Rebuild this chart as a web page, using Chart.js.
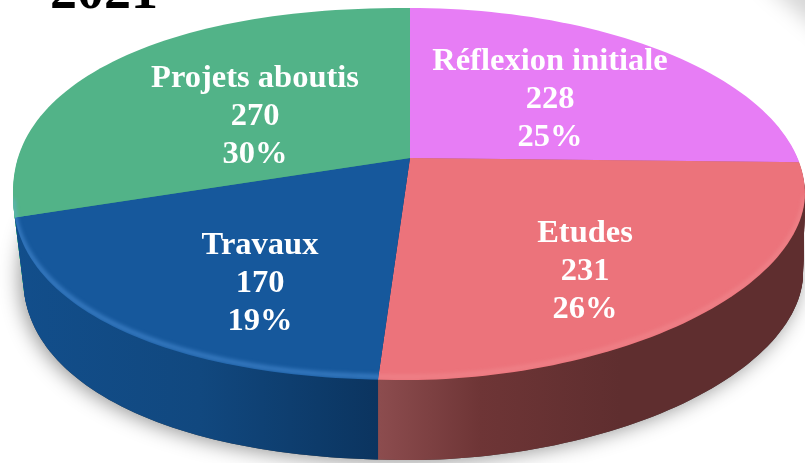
<!DOCTYPE html>
<html>
<head>
<meta charset="utf-8">
<script src="https://cdn.jsdelivr.net/npm/chart.js@4"></script>
<style>
  html, body { margin: 0; padding: 0; background: #fff; overflow: hidden; }
  canvas { display: block; }
</style>
</head>
<body>
<canvas id="pie" width="805" height="463"></canvas>
<script>
// data, clockwise from 12 o'clock
const categories = ['Réflexion initiale', 'Etudes', 'Travaux', 'Projets aboutis'];
const values = [228, 231, 170, 270];
const percents = ['25%', '26%', '19%', '30%'];
const titleText = '2021';

const faceColors = ['#E77DF5', '#EC737B', '#16589C', '#52B388'];
const sideColors = [
    ['#A85BB3', '#A85BB3'],
    ['#8C4C4E', '#6E3536', '#5F2E2F', '#5F2E2F'],
    ['#124E8B', '#11487F', '#0B345F'],
    ['#5CC497', '#3E9A70']
];
const sideStops = [[390, 800], [380, 480, 620, 800], [15, 200, 380], [10, 60]];

// label centres in page pixels (first line)
const labelPos = [[550, 62], [585, 234], [260, 246], [255, 79]];
const lineGap = 38;

// flattened disc: the apex sits above the rim's centre, as in a perspective view
const apex = { x: 410, y: 158, rx: 500, ry: 230 };
const rim = { x: 409, y: 194, rx: 396, ry: 186 };
const depth = 80;

function placeDisc(ctx, arc, dy) {
    const sx = apex.rx / arc.outerRadius;
    const sy = apex.ry / arc.outerRadius;
    ctx.translate(apex.x, apex.y + dy);
    ctx.scale(sx, sy);
    ctx.translate(-arc.x, -arc.y);
}

// rim outline, a bit fuller on the left and tighter at the front right
function rimPoints(dy, from, to) {
    const pts = [];
    const cx = rim.x + dy * 0.05;
    const rx = rim.rx - dy * 0.075;
    for (let k = 0; k <= 240; k++) {
        const t = from + (to - from) * k / 240;
        const c = Math.cos(t), s = Math.sin(t);
        const n = c < 0 ? 2.2 : (s > 0 ? 1.9 : 2);
        const px = Math.sign(c) * Math.pow(Math.abs(c), 2 / n);
        const py = Math.sign(s) * Math.pow(Math.abs(s), 2 / n);
        pts.push([cx + rx * px, rim.y + dy + rim.ry * py]);
    }
    return pts;
}

function rimPath(ctx, dy) {
    ctx.beginPath();
    rimPoints(dy, 0, Math.PI * 2).forEach((p, k) => k ? ctx.lineTo(p[0], p[1]) : ctx.moveTo(p[0], p[1]));
    ctx.closePath();
}

function bevel(ctx, color, left, right) {
    ctx.save();
    rimPath(ctx, 0);
    ctx.clip();
    ctx.beginPath();
    ctx.rect(left, 0, right - left, 463);
    ctx.clip();
    ctx.filter = 'blur(2px)';
    ctx.strokeStyle = color;
    ctx.lineWidth = 4;
    ctx.beginPath();
    rimPoints(-3, 0.01 * Math.PI, 0.99 * Math.PI).forEach((p, k) => k ? ctx.lineTo(p[0], p[1]) : ctx.moveTo(p[0], p[1]));
    ctx.stroke();
    ctx.restore();
}

const disc3d = {
    id: 'disc3d',
    beforeDatasetsDraw(chart) {
        const ctx = chart.ctx;
        const arcs = chart.getDatasetMeta(0).data;
        const first = arcs[0];
        const toLocal = X => first.x + (X - apex.x) * first.outerRadius / apex.rx;

        // smudge in the top right corner
        ctx.save();
        ctx.filter = 'blur(10px)';
        ctx.fillStyle = 'rgba(0,0,0,0.16)';
        ctx.beginPath();
        ctx.moveTo(760, -20);
        ctx.lineTo(830, -20);
        ctx.lineTo(830, 40);
        ctx.closePath();
        ctx.fill();
        ctx.restore();

        // ground shadow
        ctx.save();
        ctx.shadowColor = 'rgba(0,0,0,0.42)';
        ctx.shadowBlur = 20;
        ctx.shadowOffsetX = -3;
        ctx.shadowOffsetY = 2;
        ctx.fillStyle = '#444';
        rimPath(ctx, depth);
        ctx.fill();
        ctx.restore();

        // wall: the same arcs pushed down step by step
        const fills = arcs.map((arc, i) => {
            const a = sideStops[i][0], b = sideStops[i][sideStops[i].length - 1];
            const g = ctx.createLinearGradient(toLocal(a), 0, toLocal(b), 0);
            sideStops[i].forEach((s, k) => g.addColorStop((s - a) / (b - a), sideColors[i][k]));
            return g;
        });
        for (let d = depth; d > 0; d--) {
            ctx.save();
            rimPath(ctx, d);
            ctx.clip();
            placeDisc(ctx, first, d);
            arcs.forEach((arc, i) => {
                const keep = arc.options;
                arc.options = Object.assign({}, keep, { backgroundColor: fills[i], borderWidth: 0 });
                arc.draw(ctx);
                arc.options = keep;
            });
            ctx.restore();
        }

        // top face is drawn by the library inside this transform
        ctx.save();
        rimPath(ctx, 0);
        ctx.clip();
        placeDisc(ctx, first, 0);
    },
    afterDatasetsDraw(chart) {
        const ctx = chart.ctx;
        ctx.restore();

        // soft bevel along the front rim
        bevel(ctx, 'rgba(110,180,255,0.45)', 0, 379);
        bevel(ctx, 'rgba(255,190,190,0.22)', 379, 805);

        // clipped title at the top edge
        ctx.save();
        ctx.fillStyle = '#000';
        ctx.font = 'bold 54px "Liberation Serif"';
        ctx.textBaseline = 'alphabetic';
        ctx.textAlign = 'left';
        ctx.fillText(titleText, 50, 8);

        // labels
        ctx.fillStyle = '#fff';
        ctx.font = 'bold 32.5px "Liberation Serif"';
        ctx.textAlign = 'center';
        ctx.textBaseline = 'middle';
        categories.forEach((name, i) => {
            const [x, y] = labelPos[i];
            ctx.fillText(name, x, y);
            ctx.fillText(String(values[i]), x, y + lineGap);
            ctx.fillText(percents[i], x, y + lineGap * 2);
        });
        ctx.restore();
    }
};

new Chart(document.getElementById('pie'), {
    type: 'pie',
    data: {
        labels: categories,
        datasets: [{ data: values, backgroundColor: faceColors, borderWidth: 0, hoverOffset: 0 }]
    },
    options: {
        responsive: false,
        animation: false,
        events: [],
        plugins: { legend: { display: false }, tooltip: { enabled: false }, title: { display: false } }
    },
    plugins: [disc3d]
});
</script>
</body>
</html>
